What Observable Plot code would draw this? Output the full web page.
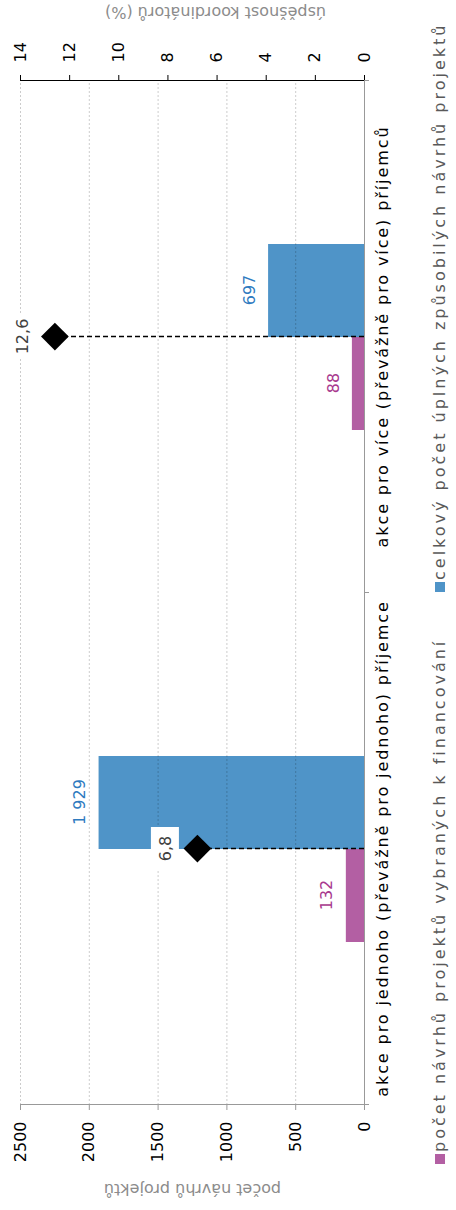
<!DOCTYPE html>
<html><head><meta charset="utf-8">
<script src="https://cdn.jsdelivr.net/npm/d3@7"></script>
<script src="https://cdn.jsdelivr.net/npm/@observablehq/plot@0.6"></script>
<style>
html,body{margin:0;padding:0;background:#fff;}
#rot{position:absolute;left:0;top:0;width:1210px;height:456px;transform-origin:0 0;transform:translateY(1210px) rotate(-90deg);font-family:"DejaVu Sans",sans-serif;background:#fff;overflow:hidden}
#chart svg{display:block}
#legend{position:absolute;left:0;top:430px;width:1210px;height:20px;font-size:16px;color:#595959;letter-spacing:3px}
#legend .item{position:absolute;top:0;white-space:nowrap;line-height:20px}
#legend .sw{display:inline-block;width:10px;height:10px;margin-right:2px;vertical-align:0px}
</style>
</head><body><div id="rot"><div id="chart"></div><div id="legend"></div></div>
<script>
const categories = ["akce pro jednoho (převážně pro jednoho) příjemce", "akce pro více (převážně pro více) příjemců"];
const seriesNames = ["počet návrhů projektů vybraných k financování", "celkový počet úplných způsobilých návrhů projektů"];
const selected = [132, 88];
const total = [1929, 697];
const successRate = [6.8, 12.6];
const leftTicks = [0, 500, 1000, 1500, 2000, 2500];
const rightTicks = [0, 2, 4, 6, 8, 10, 12, 14];
const leftTitle = "počet návrhů projektů";
const rightTitle = "úspěšnost koordinátorů (%)";
const colors = ["#b35fa3", "#4f94c8"];
const labelColors = ["#a8398e", "#2f7bbf"];

const W = 1210, H = 430, mL = 105, mR = 81, mT = 20, mB = 66;
const band = (W - mL - mR) / categories.length;
const barW = 93;
const K = 2500 / 14; // right-axis (%) to left-axis units
const rows = categories.map((c, i) => ({cat: c, sel: selected[i], tot: total[i], rate: successRate[i]}));
const fmtN = v => d3.format(",")(v).replace(/,/g, " ");
const fmtP = v => d3.format(".1f")(v).replace(".", ",");

const chart = Plot.plot({
  width: W, height: H,
  marginLeft: mL, marginRight: mR, marginTop: mT, marginBottom: mB,
  style: {fontFamily: "DejaVu Sans", fontSize: "16px", background: "#fff", overflow: "visible"},
  x: {domain: categories, padding: 0, axis: null},
  y: {domain: [0, 2500], axis: null},
  marks: [
    Plot.barY(rows, {x: "cat", y: "sel", fill: colors[0], insetLeft: band / 2 - barW, insetRight: band / 2}),
    Plot.barY(rows, {x: "cat", y: "tot", fill: colors[1], insetLeft: band / 2, insetRight: band / 2 - barW}),
    Plot.ruleY(leftTicks.slice(1), {stroke: "#000", strokeOpacity: 0.2, strokeDasharray: "2,2"}),
    Plot.ruleX([categories[0]], {x: d => d, dx: -band / 2, stroke: "#999"}),
    Plot.ruleX([categories[categories.length - 1]], {x: d => d, dx: band / 2, stroke: "#000"}),
    Plot.ruleY([0], {stroke: "#999"}),
    Plot.ruleX(categories, {x: d => d, dx: -band / 2, stroke: "#999", insetTop: H - mT - mB, insetBottom: -5}),
    Plot.ruleX([categories[categories.length - 1]], {x: d => d, dx: band / 2, stroke: "#999", insetTop: H - mT - mB, insetBottom: -5}),
    Plot.axisY({anchor: "left", ticks: leftTicks, tickSize: 5, tickPadding: 12, stroke: "#999", fill: "#000", label: null, tickFormat: d => String(d)}),
    Plot.axisY({anchor: "right", ticks: rightTicks.map(p => p * K), tickSize: 5, tickPadding: 13, stroke: "#000", fill: "#000", label: null, tickFormat: v => String(Math.round(v / K))}),
    Plot.text([leftTitle], {frameAnchor: "left", dx: -85, rotate: -90, textAnchor: "middle", fill: "#8c8c8c"}),
    Plot.text([rightTitle], {frameAnchor: "right", dx: 68, dy: 23, rotate: -90, textAnchor: "middle", fill: "#8c8c8c"}),
    Plot.text(categories, {x: d => d, frameAnchor: "bottom", dy: 23, fill: "#000"}),
    Plot.text(rows, {x: "cat", y: "sel", text: d => fmtN(d.sel), dx: -barW / 2, dy: -19, fill: labelColors[0]}),
    Plot.text(rows, {x: "cat", y: "tot", text: d => fmtN(d.tot), dx: barW / 2, dy: -19, fill: labelColors[1]}),
    Plot.ruleX(rows, {x: "cat", y1: 0, y2: d => d.rate * K, stroke: "#000", strokeWidth: 1.5, strokeDasharray: "5,3"}),
    Plot.dot(rows, {x: "cat", y: d => d.rate * K, symbol: "diamond2", r: 12.5, fill: "#000", stroke: "none"}),
    Plot.barY(rows, {x: "cat", y1: d => d.rate * K, y2: d => d.rate * K, fill: "#fff", insetLeft: band / 2 - 22, insetRight: band / 2 - 22, insetTop: -46, insetBottom: 18}),
    Plot.text(rows, {x: "cat", y: d => d.rate * K, text: d => fmtP(d.rate), dy: -32, fill: "#404040"})
  ]
});
chart.querySelectorAll("text").forEach(t => {
  if (categories.includes(t.textContent)) t.style.letterSpacing = "1.9px";
});
document.getElementById("chart").appendChild(chart);

const legend = document.getElementById("legend");
const legendLeft = [46, 618];
seriesNames.forEach((name, i) => {
  const item = document.createElement("div");
  item.className = "item";
  item.style.left = legendLeft[i] + "px";
  const sw = document.createElement("span");
  sw.className = "sw";
  sw.style.background = colors[i];
  item.appendChild(sw);
  item.appendChild(document.createTextNode(name));
  legend.appendChild(item);
});
</script>
</body></html>
